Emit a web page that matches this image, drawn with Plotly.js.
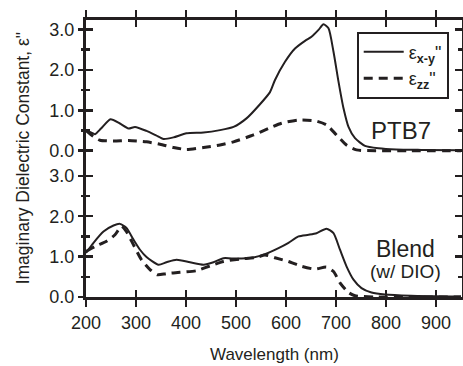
<!DOCTYPE html>
<html>
<head>
<meta charset="utf-8">
<script src="https://cdn.plot.ly/plotly-3.0.1.min.js"></script>
<style>html,body{margin:0;padding:0;background:#fff;}#chart{width:463px;height:366px;}</style>
</head>
<body>
<div id="chart"></div>
<script>
// ---- Data ----
// PTB7 (top panel)
const lamTopXY = [200, 210, 218, 230, 249, 267, 285, 298, 321, 340, 355, 375, 401, 435, 468, 495, 521, 548, 568, 578, 598, 618, 638, 651, 665, 675, 685, 695, 705, 715, 725, 738, 758, 785, 820, 870, 950];
const epsTopXY = [0.51, 0.45, 0.41, 0.55, 0.78, 0.68, 0.55, 0.59, 0.49, 0.38, 0.29, 0.33, 0.43, 0.45, 0.51, 0.59, 0.80, 1.15, 1.45, 1.75, 2.20, 2.53, 2.72, 2.82, 2.99, 3.13, 3.03, 2.45, 1.71, 1.05, 0.59, 0.31, 0.12, 0.06, 0.03, 0.02, 0.01];
const lamTopZZ = [200, 215, 228, 255, 285, 321, 348, 375, 401, 435, 468, 495, 535, 565, 591, 625, 658, 681, 701, 721, 741, 780, 850, 950];
const epsTopZZ = [0.50, 0.35, 0.26, 0.24, 0.25, 0.22, 0.16, 0.08, 0.03, 0.08, 0.14, 0.22, 0.39, 0.55, 0.68, 0.76, 0.74, 0.64, 0.39, 0.14, 0.02, 0.00, 0.00, 0.00];
// Blend w/ DIO (bottom panel)
const lamBotXY = [200, 215, 235, 255, 268, 281, 295, 308, 321, 345, 361, 381, 408, 435, 455, 475, 501, 535, 558, 585, 605, 625, 645, 661, 681, 695, 708, 721, 735, 751, 771, 798, 850, 950];
const epsBotXY = [1.09, 1.34, 1.62, 1.77, 1.81, 1.71, 1.42, 1.17, 0.99, 0.80, 0.86, 0.92, 0.86, 0.80, 0.86, 0.96, 0.95, 0.98, 1.06, 1.21, 1.34, 1.50, 1.54, 1.58, 1.69, 1.58, 1.17, 0.76, 0.43, 0.22, 0.11, 0.06, 0.03, 0.01];
const lamBotZZ = [200, 221, 241, 258, 271, 281, 295, 311, 328, 343, 361, 388, 421, 448, 475, 508, 541, 558, 578, 605, 631, 658, 681, 695, 708, 725, 738, 780, 950];
const epsBotZZ = [1.13, 1.27, 1.38, 1.54, 1.75, 1.62, 1.29, 0.92, 0.68, 0.55, 0.58, 0.61, 0.65, 0.77, 0.88, 0.94, 0.98, 1.04, 0.97, 0.88, 0.76, 0.69, 0.74, 0.63, 0.35, 0.11, 0.03, 0.00, 0.00];

const xTickVals = [200, 300, 400, 500, 600, 700, 800, 900];
const yTickVals = [0, 1, 2, 3];
const yTickText = ["0.0", "1.0", "2.0", "3.0"];
const yMinorVals = [0.5, 1.5, 2.5];
const seriesNames = ["ε<sub><b>x-y</b></sub>\"", "ε<sub><b>zz</b></sub>\""];

// ---- Styling ----
const INK = "#231f20";
const FONT = "Liberation Sans, Arial, Helvetica, sans-serif";
const solid = {color: INK, width: 2, shape: "spline", smoothing: 0.6};
const dashed = {color: INK, width: 3, dash: "9px,6px", shape: "spline", smoothing: 0.6};

const traces = [
  {x: lamTopXY, y: epsTopXY, xaxis: "x2", yaxis: "y2", mode: "lines", line: solid, name: seriesNames[0], showlegend: true},
  {x: lamTopZZ, y: epsTopZZ, xaxis: "x2", yaxis: "y2", mode: "lines", line: dashed, name: seriesNames[1], showlegend: true},
  {x: lamBotXY, y: epsBotXY, xaxis: "x", yaxis: "y", mode: "lines", line: solid, name: seriesNames[0], showlegend: false},
  {x: lamBotZZ, y: epsBotZZ, xaxis: "x", yaxis: "y", mode: "lines", line: dashed, name: seriesNames[1], showlegend: false}
];
// empty carriers so the overlaid tick-only axes (crossing ticks) are drawn
[["x3", "y"], ["x", "y3"], ["x4", "y2"], ["x2", "y4"]].forEach(function (p) {
  traces.push({x: [], y: [], xaxis: p[0], yaxis: p[1], mode: "lines", showlegend: false, hoverinfo: "skip"});
});

const XR = [200, 952];
const split = 0.4823;
const tickFont = {family: FONT, size: 18, color: INK};

function xAx(extra) {
  return Object.assign({
    range: XR, autorange: false, tickmode: "array", tickvals: xTickVals, ticklen: 7, tickwidth: 2.5, tickcolor: INK,
    showgrid: false, zeroline: false, tickfont: tickFont, fixedrange: true
  }, extra);
}
function yAx(extra) {
  return Object.assign({
    autorange: false, tickmode: "array", tickvals: yTickVals, ticktext: yTickText, ticklen: 7, tickwidth: 2.5, tickcolor: INK,
    showgrid: false, zeroline: false, tickfont: tickFont, fixedrange: true
  }, extra);
}
const minorIn = {tickvals: yMinorVals, ticks: "inside", ticklen: 4, tickwidth: 2.5, tickcolor: INK, showgrid: false};
const minorOut = {tickvals: yMinorVals, ticks: "outside", ticklen: 4, tickwidth: 2.5, tickcolor: INK, showgrid: false};

const layout = {
  width: 463, height: 366,
  margin: {l: 86, r: 1, t: 20, b: 69},
  paper_bgcolor: "#fff", plot_bgcolor: "#fff",
  font: {family: FONT, color: INK},
  showlegend: true,
  legend: {
    x: 0.72, y: 0.958, xanchor: "left", yanchor: "top",
    bgcolor: "#fff", bordercolor: INK, borderwidth: 2,
    font: {family: FONT, size: 18, color: INK},
    itemwidth: 40, tracegroupgap: 0
  },
  // bottom panel
  xaxis: xAx({anchor: "y", ticks: "outside", showline: true, linewidth: 3, linecolor: INK}),
  xaxis3: xAx({anchor: "y", overlaying: "x", ticks: "inside", showticklabels: false, showline: false}),
  // top panel
  xaxis2: xAx({anchor: "y2", side: "top", ticks: "outside", showticklabels: false, showline: true, linewidth: 3, linecolor: INK}),
  xaxis4: xAx({anchor: "y2", side: "top", overlaying: "x2", ticks: "inside", showticklabels: false, showline: false}),
  yaxis: yAx({domain: [0, split], range: [0, 3.307], anchor: "x", ticks: "inside", mirror: "ticks",
    showticklabels: false, showline: true, linewidth: 3, linecolor: INK, minor: minorIn}),
  yaxis3: yAx({range: [0, 3.307], anchor: "x", overlaying: "y", side: "left", ticks: "outside", showline: false, minor: minorOut}),
  yaxis2: yAx({domain: [split, 1], range: [-0.314, 3.235], anchor: "x2", ticks: "inside", mirror: "ticks",
    showticklabels: false, showline: true, linewidth: 3, linecolor: INK, minor: minorIn}),
  yaxis4: yAx({range: [-0.314, 3.235], anchor: "x2", overlaying: "y2", side: "left", ticks: "outside", showline: false, minor: minorOut}),
  annotations: [
    {text: "PTB7", xref: "x2", yref: "y2", x: 830, y: 0.49, showarrow: false, font: {family: FONT, size: 24, color: INK}},
    {text: "Blend", xref: "x", yref: "y", x: 838, y: 1.18, showarrow: false, font: {family: FONT, size: 23, color: INK}},
    {text: "(w/ DIO)", xref: "x", yref: "y", x: 838, y: 0.63, showarrow: false, font: {family: FONT, size: 19, color: INK}},
    {text: "Wavelength (nm)", xref: "paper", yref: "paper", x: 0.5, y: -0.208,
      xanchor: "center", yanchor: "middle", showarrow: false, font: {family: FONT, size: 17, color: INK}},
    {text: "Imaginary Dielectric Constant, ε\"", xref: "paper", yref: "paper", x: -0.168, y: 0.5,
      xanchor: "center", yanchor: "middle", textangle: -90, showarrow: false, font: {family: FONT, size: 17.5, color: INK}}
  ]
};

Plotly.newPlot("chart", traces, layout, {staticPlot: true, displayModeBar: false});
</script>
</body>
</html>
